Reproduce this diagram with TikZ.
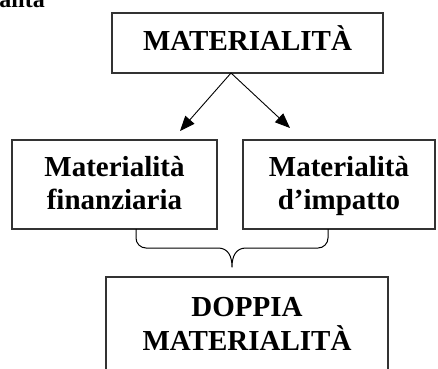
\documentclass[tikz,border=0pt]{standalone}
\usepackage{fontspec}
\setmainfont{Liberation Serif}
\usetikzlibrary{arrows.meta}

\tikzset{
  frame/.style={draw=black!80, line width=1.3pt, inner sep=0pt, fill=none},
  label/.style={font=\bfseries\fontsize{29}{33}\selectfont, inner sep=0pt, anchor=base},
  link/.style={draw=black, line width=0.9pt, -{Triangle[length=15pt,width=12pt]}},
  brace/.style={draw=black, line width=1pt, line join=round}
}

\begin{document}
\begin{tikzpicture}[x=1pt, y=-1pt]
  \useasboundingbox (0,0) rectangle (438,368);

  % caption fragment above the diagram
  \node[font=\bfseries\fontsize{24}{28}\selectfont, inner sep=0pt, anchor=base east] (cap) at (45,7.5) {alità};

  % frames
  \node[frame, minimum width=271pt, minimum height=60pt] (top) at (247.5,43) {};
  \node[frame, minimum width=205pt, minimum height=89pt] (fin) at (114.5,184.5) {};
  \node[frame, minimum width=192pt, minimum height=89pt] (imp) at (339,184.5) {};
  \node[frame, minimum width=282pt, minimum height=93pt] (dop) at (247,323.5) {};

  % texts
  \node[label] (ttop) at (247.5,50) {MATERIALITÀ};
  \node[label] (tfin1) at (114.5,176) {Materialità};
  \node[label] (tfin2) at (114.5,209) {finanziaria};
  \node[label] (timp1) at (339,176) {Materialità};
  \node[label] (timp2) at (339,209) {d’impatto};
  \node[label] (tdop1) at (247,316) {DOPPIA};
  \node[label] (tdop2) at (247,350) {MATERIALITÀ};

  % arrows from the top frame
  \coordinate (split) at (231,73);
  \coordinate (tipL) at (180,131);
  \coordinate (tipR) at (290,128);
  \draw[link] (split) -- (tipL);
  \draw[link] (split) -- (tipR);

  % curly brace joining the two middle frames
  \coordinate (bL) at (136,229);
  \coordinate (bR) at (328,229);
  \coordinate (tip) at (232,267);
  \draw[brace] (bL) -- (136,238) arc[start angle=180, end angle=90, radius=10]
    -- (218,248) .. controls (228,248) and (232,256) .. (tip)
    .. controls (232,256) and (236,248) .. (246,248)
    -- (318,248) arc[start angle=90, end angle=0, radius=10] -- (bR);
\end{tikzpicture}
\end{document}
